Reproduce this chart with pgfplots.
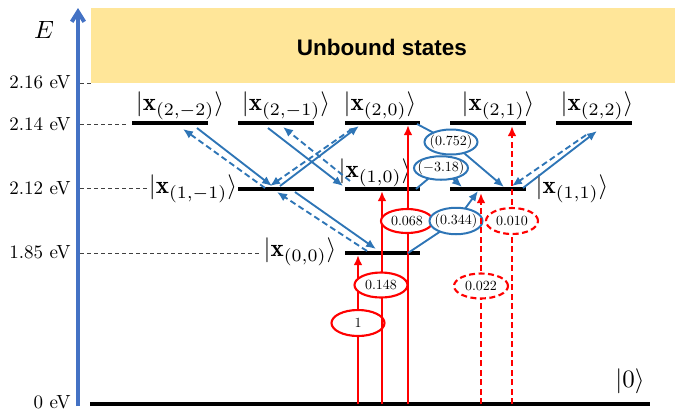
\documentclass[border=0pt]{standalone}
\usepackage{fontspec}
\usepackage{pgfplots}
\pgfplotsset{compat=1.18}
\usetikzlibrary{arrows.meta}
\newfontfamily\arialfont{Liberation Sans}
\definecolor{axisblue}{HTML}{4472C4}
\definecolor{arrowblue}{HTML}{2E75B6}
\definecolor{lvlred}{HTML}{FF0000}
\definecolor{gold}{HTML}{FFE699}
\tikzset{
  lvl/.style={black,line width=1.3pt},
  guide/.style={black!75,line width=0.4pt,dash pattern=on 1.6pt off 1.2pt},
  barr/.style={arrowblue,line width=0.75pt,-{Latex[length=4pt,width=3.4pt]}},
  rarr/.style={lvlred,line width=0.85pt,-{Latex[length=4pt,width=3.4pt]}},
  dsh/.style={dash pattern=on 2.4pt off 1.4pt},
  val/.style={scale=0.56,inner sep=0pt},
  ket/.style={inner sep=0pt},
  tick/.style={scale=0.76,anchor=east,inner sep=0pt},
}
\begin{document}
\begin{tikzpicture}
\begin{axis}[width=270pt,height=163.2pt,scale only axis,
  xmin=0,xmax=675,ymin=0,ymax=408,y dir=reverse,
  hide axis,clip=false]
\addplot[draw=none] coordinates {(0,0) (675,408)};
% unbound region
\addplot[fill=gold,draw=none] coordinates {(91,8) (675,8) (675,83) (91,83)} -- cycle;
\node[font=\arialfont\bfseries\fontsize{9}{10}\selectfont] at (axis cs:382,47) {Unbound states};
% energy axis
\addplot[axisblue,line width=1.6pt,-{Straight Barb[length=4pt,width=5pt]}] coordinates {(78,406) (78,8)};
\node at (axis cs:44,30) {$E$};
\node[tick] at (axis cs:71,82) {2.16 eV};
\node[tick] at (axis cs:71,124) {2.14 eV};
\node[tick] at (axis cs:71,188) {2.12 eV};
\node[tick] at (axis cs:71,252) {1.85 eV};
\node[tick] at (axis cs:71,402) {0 eV};
\addplot[guide] coordinates {(80,83) (92,83)};
\addplot[guide] coordinates {(80,124) (126,124)};
\addplot[guide] coordinates {(80,188) (148,188)};
\addplot[guide] coordinates {(80,253) (262,253)};
% levels
\addplot[lvl] coordinates {(90,404) (650,404)};
\addplot[lvl] coordinates {(132,123) (208,123)};
\addplot[lvl] coordinates {(238,123) (314,123)};
\addplot[lvl] coordinates {(345,123) (420,123)};
\addplot[lvl] coordinates {(450,123) (526,123)};
\addplot[lvl] coordinates {(556,123) (632,123)};
\addplot[lvl] coordinates {(238,189) (314,189)};
\addplot[lvl] coordinates {(345,189) (420,189)};
\addplot[lvl] coordinates {(450,189) (526,189)};
\addplot[lvl] coordinates {(345,253) (420,253)};
\node[ket] at (axis cs:180,106) {$|\mathbf{x}_{(2,-2)}\rangle$};
\node[ket] at (axis cs:286,106) {$|\mathbf{x}_{(2,-1)}\rangle$};
\node[ket] at (axis cs:380,106) {$|\mathbf{x}_{(2,0)}\rangle$};
\node[ket] at (axis cs:498,106) {$|\mathbf{x}_{(2,1)}\rangle$};
\node[ket] at (axis cs:597,106) {$|\mathbf{x}_{(2,2)}\rangle$};
\node[ket] at (axis cs:193,189) {$|\mathbf{x}_{(1,-1)}\rangle$};
\node[ket] at (axis cs:375,173) {$|\mathbf{x}_{(1,0)}\rangle$};
\node[ket] at (axis cs:572,189) {$|\mathbf{x}_{(1,1)}\rangle$};
\node[ket] at (axis cs:300,252) {$|\mathbf{x}_{(0,0)}\rangle$};
\node[ket] at (axis cs:630,381) {$|0\rangle$};
% blue couplings
\addplot[barr] coordinates {(197,128) (272,186)};
\addplot[barr,dsh] coordinates {(265,188) (183,129)};
\addplot[barr] coordinates {(268,128) (343,186)};
\addplot[barr,dsh] coordinates {(350,181) (283,127)};
\addplot[barr] coordinates {(280,186) (359,126)};
\addplot[barr,dsh] coordinates {(352,129) (270,186)};
\addplot[barr] coordinates {(295,192) (376,249)};
\addplot[barr,dsh] coordinates {(367,251) (277,192)};
\addplot[barr] coordinates {(523,188) (597,131)};
\addplot[barr,dsh] coordinates {(586,135) (512,186)};
\addplot[barr] coordinates {(417,124) (451,142) (504,187)};
\filldraw[fill=white,draw=arrowblue,line width=0.8pt] (axis cs:451,142) ellipse [x radius=10.6pt,y radius=5pt];
\node[val] at (axis cs:451,142) {$(0.752)$};
\addplot[barr] coordinates {(416,189) (441,168) (462,187)};
\filldraw[fill=white,draw=arrowblue,line width=0.8pt] (axis cs:441,168) ellipse [x radius=10.8pt,y radius=4.7pt];
\node[val] at (axis cs:441,168) {$(-3.18)$};
% red excitations
\addplot[rarr] coordinates {(358,404) (358,255)};
\filldraw[fill=white,draw=lvlred,line width=0.85pt] (axis cs:358,323) ellipse [x radius=10.6pt,y radius=5.2pt];
\node[val] at (axis cs:358,323) {$1$};
\addplot[rarr] coordinates {(382,404) (382,191)};
\filldraw[fill=white,draw=lvlred,line width=0.85pt] (axis cs:381,285) ellipse [x radius=10.6pt,y radius=5pt];
\node[val] at (axis cs:381,285) {$0.148$};
\addplot[rarr] coordinates {(408,404) (408,125)};
\filldraw[fill=white,draw=lvlred,line width=0.85pt] (axis cs:407,221) ellipse [x radius=10.4pt,y radius=4.8pt];
\node[val] at (axis cs:407,221) {$0.068$};
\addplot[barr] coordinates {(408,253) (456,221) (478,191)};
\filldraw[fill=white,draw=arrowblue,line width=0.8pt] (axis cs:456,221) ellipse [x radius=10.6pt,y radius=5.3pt];
\node[val] at (axis cs:456,221) {$(0.344)$};
\addplot[rarr,dsh] coordinates {(481,404) (481,193)};
\filldraw[fill=white,draw=lvlred,line width=0.85pt,dsh] (axis cs:481,286) ellipse [x radius=10.8pt,y radius=5pt];
\node[val] at (axis cs:481,286) {$0.022$};
\addplot[rarr,dsh] coordinates {(512,404) (512,126)};
\filldraw[fill=white,draw=lvlred,line width=0.85pt,dsh] (axis cs:512,221) ellipse [x radius=10.4pt,y radius=5.2pt];
\node[val] at (axis cs:512,221) {$0.010$};
\end{axis}
\end{tikzpicture}
\end{document}
